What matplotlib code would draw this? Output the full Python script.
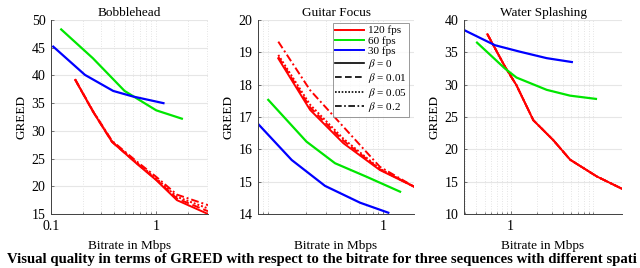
import matplotlib
matplotlib.use("Agg")
import matplotlib.pyplot as plt
from matplotlib.ticker import LogLocator, NullFormatter, FixedLocator, FixedFormatter

plt.rcParams["font.family"] = ["Liberation Serif", "DejaVu Serif"]
plt.rcParams["mathtext.fontset"] = "stix"

# Bobblehead
bob_x120 = [0.17, 0.25, 0.38, 0.65, 1.0, 1.57, 3.1]
bob_y120 = [39.2, 33.5, 28.0, 24.1, 21.1, 17.5, 15.0]
bob_y120_001 = [39.2, 33.5, 28.0, 24.2, 21.2, 17.8, 15.5]
bob_y120_005 = [39.2, 33.6, 28.1, 24.3, 21.4, 18.1, 16.0]
bob_y120_02 = [39.3, 33.6, 28.2, 24.5, 21.7, 18.5, 16.6]
bob_x60 = [0.125, 0.25, 0.5, 1.0, 1.75]
bob_y60 = [48.3, 43.1, 37.2, 33.7, 32.2]
bob_x30 = [0.105, 0.21, 0.39, 0.6, 1.17]
bob_y30 = [45.2, 40.1, 37.2, 36.2, 35.0]

# Guitar Focus
gui_x120 = [0.111, 0.216, 0.433, 0.93, 1.94]
gui_y120 = [18.81, 17.22, 16.19, 15.36, 14.83]
gui_y120_001 = [18.86, 17.30, 16.27, 15.38, 14.83]
gui_y120_005 = [18.92, 17.38, 16.33, 15.40, 14.83]
gui_y120_02 = [19.33, 17.83, 16.70, 15.46, 14.83]
gui_x60 = [0.09, 0.2, 0.364, 0.706, 1.42]
gui_y60 = [17.53, 16.24, 15.57, 15.15, 14.69]
gui_x30 = [0.073, 0.147, 0.295, 0.614, 1.11]
gui_y30 = [16.78, 15.67, 14.87, 14.35, 14.04]

# Water Splashing
wat_x120 = [0.54, 0.86, 1.17, 1.83, 3.12, 4.86, 9.9, 19.3]
wat_y120 = [37.8, 32.8, 29.9, 24.5, 21.4, 18.4, 15.8, 13.9]
wat_x60 = [0.41, 0.86, 1.17, 2.61, 4.86, 9.66]
wat_y60 = [36.5, 32.5, 31.1, 29.2, 28.3, 27.8]
wat_x30 = [0.29, 0.66, 1.28, 2.61, 5.09]
wat_y30 = [38.45, 36.1, 35.1, 34.1, 33.5]

titles = ["Bobblehead", "Guitar Focus", "Water Splashing"]
xlims = [(0.1, 3.1), (0.0726, 1.9), (0.29, 19.3)]
ylims = [(15, 50), (14, 20), (10, 40)]
yticks = [range(15, 51, 5), range(14, 21, 1), range(10, 41, 5)]
xticks = [[0.1, 1], [1], [1]]
xticklabels = [["0.1", "1"], ["1"], ["1"]]
fps_labels = ["120 fps", "60 fps", "30 fps"]
beta_labels = [r"$\beta$ = 0", r"$\beta$ = 0.01", r"$\beta$ = 0.05", r"$\beta$ = 0.2"]
caption = "Visual quality in terms of GREED with respect to the bitrate for three sequences with different spati"

red, green, blue = "#ff0000", "#00e600", "#0000ff"
styles = ["-", (0, (4, 2)), (0, (1, 1)), (0, (4, 1.5, 1, 1.5))]

fig = plt.figure(figsize=(6.4, 2.68), dpi=100)
lefts = [51 / 640, 258 / 640, 464 / 640]
widths = [157 / 640, 156 / 640, 158 / 640]
axes = [fig.add_axes([l, 1 - 214 / 268, w, 194 / 268]) for l, w in zip(lefts, widths)]

data = [
    (bob_x120, [bob_y120, bob_y120_001, bob_y120_005, bob_y120_02], bob_x60, bob_y60, bob_x30, bob_y30),
    (gui_x120, [gui_y120, gui_y120_001, gui_y120_005, gui_y120_02], gui_x60, gui_y60, gui_x30, gui_y30),
    (wat_x120, [wat_y120, wat_y120, wat_y120, wat_y120], wat_x60, wat_y60, wat_x30, wat_y30),
]

for i, ax in enumerate(axes):
    x120, ys120, x60, y60, x30, y30 = data[i]
    for ls, y in zip(styles[::-1], ys120[::-1]):
        ax.plot(x120, y, color=red, lw=1.4, ls=ls)
    ax.plot(x60, y60, color=green, lw=1.6)
    ax.plot(x30, y30, color=blue, lw=1.6)
    ax.set_xscale("log")
    ax.set_xlim(*xlims[i])
    ax.set_ylim(*ylims[i])
    ax.set_yticks(list(yticks[i]))
    ax.xaxis.set_major_locator(FixedLocator(xticks[i]))
    ax.xaxis.set_major_formatter(FixedFormatter(xticklabels[i]))
    ax.xaxis.set_minor_locator(LogLocator(base=10, subs=range(2, 10)))
    ax.xaxis.set_minor_formatter(NullFormatter())
    ax.grid(True, axis="y", which="major", color="#e6e6e6", lw=0.8)
    ax.grid(True, axis="x", which="both", color="#dcdcdc", lw=0.6, ls=(0, (1, 2)))
    ax.set_axisbelow(True)
    for s in ["top", "right"]:
        ax.spines[s].set_visible(False)
    for s in ["left", "bottom"]:
        ax.spines[s].set_color("#404040")
        ax.spines[s].set_linewidth(0.7)
    ax.tick_params(which="both", direction="in", length=2, width=0.5, colors="#404040",
                   labelcolor="black", labelsize=10, pad=4)
    ax.tick_params(which="minor", length=1.5)
    ax.set_title(titles[i], fontsize=9.5, pad=3)
    ax.set_xlabel("Bitrate in Mbps", fontsize=9.5, labelpad=5)
    ax.set_ylabel("GREED", fontsize=9.5, labelpad=3)

# legend in the middle panel
ax = axes[1]
handles = []
for c, lab in zip([red, green, blue], fps_labels):
    handles.append(plt.Line2D([], [], color=c, lw=1.4, label=lab))
for ls, lab in zip(styles, beta_labels):
    handles.append(plt.Line2D([], [], color="black", lw=1.2, ls=ls, label=lab))
leg = ax.legend(handles=handles, loc="upper right", bbox_to_anchor=(0.97, 0.985), fontsize=8,
                frameon=True, fancybox=False, handlelength=2.6, handletextpad=0.3,
                labelspacing=0.05, borderpad=0.25, borderaxespad=0)
leg.get_frame().set_edgecolor("#808080")
leg.get_frame().set_linewidth(0.7)

fig.text(7 / 640, 1 - 263 / 268, caption,
         fontsize=10.6, fontweight="bold", ha="left", va="baseline")

fig.savefig("out.png", dpi=100)
